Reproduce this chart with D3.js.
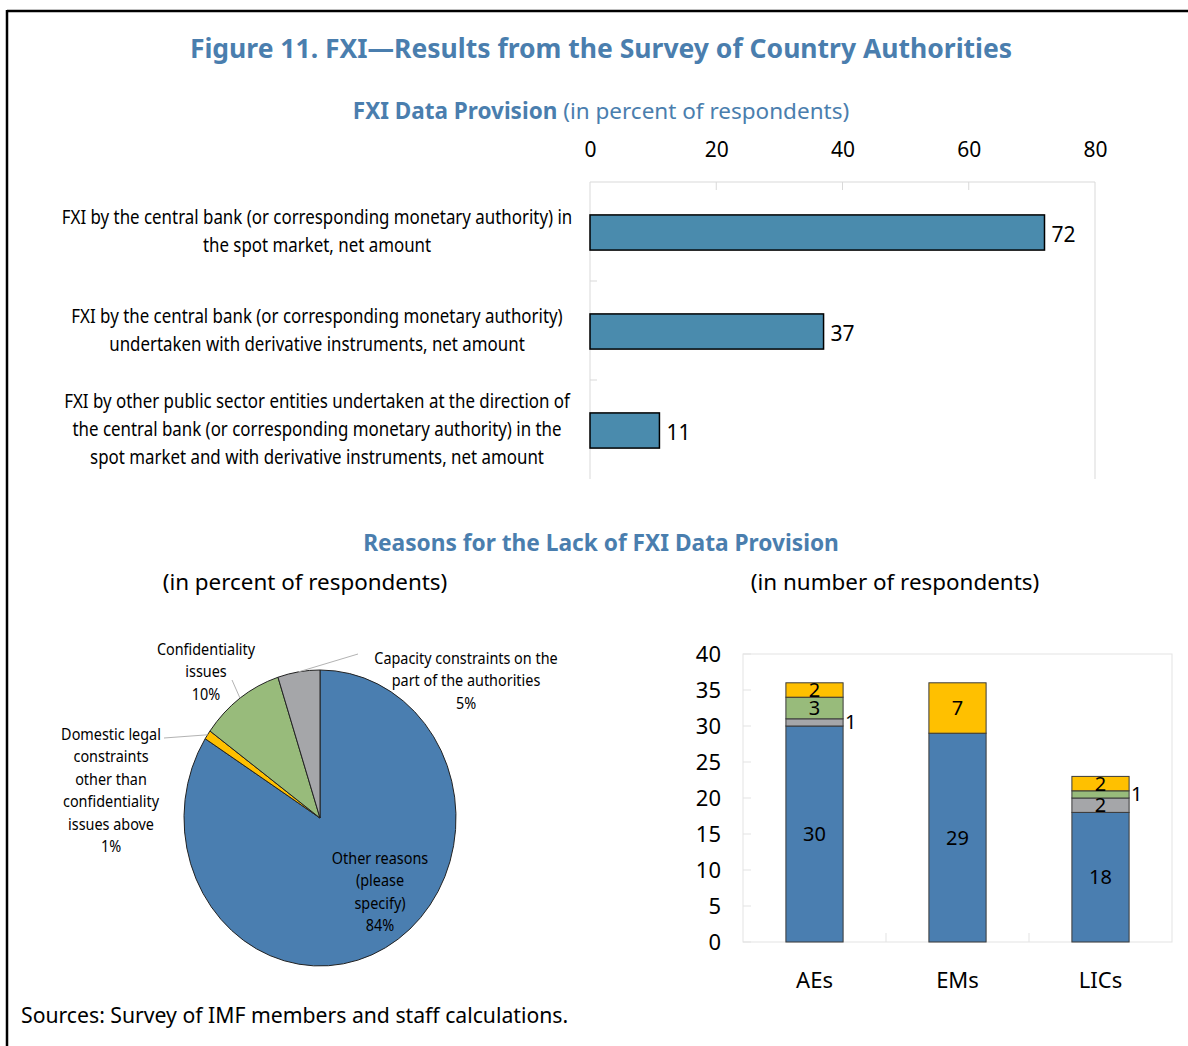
<!DOCTYPE html>
<html>
<head>
<meta charset="utf-8">
<script src="https://cdn.jsdelivr.net/npm/d3@7"></script>
<style>
  body { margin: 0; background: #fff; }
  text { font-family: "Noto Sans", "Open Sans", sans-serif; }
</style>
</head>
<body>
<script>
// top panel: FXI data provision, percent of respondents
var provisionLabels = [
  ["FXI by the central bank (or corresponding monetary authority) in", "the spot market, net amount"],
  ["FXI by the central bank (or corresponding monetary authority)", "undertaken with derivative instruments, net amount"],
  ["FXI by other public sector entities undertaken at the direction of", "the central bank (or corresponding monetary authority) in the", "spot market and with derivative instruments, net amount"]
];
var provisionValues = [72, 37, 11];
var provisionTicks = [0, 20, 40, 60, 80];

// pie: reasons, percent of respondents (clockwise from 12 o'clock)
var reasonNames = ["Other reasons", "Domestic legal constraints", "Confidentiality issues", "Capacity constraints"];
var reasonShares = [84, 1, 10, 5];
var reasonColors = ["#4a7eb0", "#ffc000", "#98bb7b", "#a5a6a9"];

// stacked bars: reasons, number of respondents
var groups = ["AEs", "EMs", "LICs"];
var otherReasons = [30, 29, 18];
var capacity = [1, 0, 2];
var confidentiality = [3, 0, 1];
var domesticLegal = [2, 7, 2];
var countTicks = [0, 5, 10, 15, 20, 25, 30, 35, 40];

var W = 1188, H = 1046;
var blue = "#4a7eae";
var svg = d3.select("body").append("svg").attr("width", W).attr("height", H);

// frame
svg.append("line").attr("x1", 7).attr("x2", W).attr("y1", 11).attr("y2", 11).attr("stroke", "#000").attr("stroke-width", 2.5);
svg.append("line").attr("x1", 7).attr("x2", 7).attr("y1", 10).attr("y2", H).attr("stroke", "#000").attr("stroke-width", 2.5);

// condensed multi-line label, centred on cx
function narrowLabel(parent, cx, lines, ys, size, k) {
  var g = parent.append("g").attr("transform", "translate(" + cx + ",0) scale(" + k + ",1)");
  var t = g.append("text").attr("text-anchor", "middle").attr("font-size", size);
  lines.forEach(function (ln, j) {
    t.append("tspan").attr("x", 0).attr("y", ys[j]).attr("dy", "0.35em").text(ln);
  });
}

// titles
svg.append("text").attr("x", 601).attr("y", 58).attr("text-anchor", "middle")
  .attr("font-size", 26.5).attr("font-weight", "bold").attr("fill", blue)
  .text("Figure 11. FXI\u2014Results from the Survey of Country Authorities");

var sub = svg.append("text").attr("x", 601).attr("y", 119).attr("text-anchor", "middle")
  .attr("font-size", 22.5).attr("fill", blue);
sub.append("tspan").attr("font-weight", "bold").text("FXI Data Provision");
sub.append("tspan").text(" (in percent of respondents)");

// ---- top bar chart ----
var x = d3.scaleLinear().domain([0, 80]).range([590, 1095]);
var y = d3.scaleBand().domain(d3.range(provisionValues.length)).range([182, 479]).paddingInner(0.645).paddingOuter(0.3225);
var grid = "#d9d9d9";

var topG = svg.append("g");
topG.append("line").attr("x1", x(0)).attr("x2", x(80)).attr("y1", 182).attr("y2", 182).attr("stroke", grid);
topG.append("line").attr("x1", x(80)).attr("x2", x(80)).attr("y1", 182).attr("y2", 479).attr("stroke", grid);
topG.append("line").attr("x1", x(0)).attr("x2", x(0)).attr("y1", 182).attr("y2", 479).attr("stroke", grid);
topG.selectAll(".xt").data(provisionTicks.slice(1, -1)).enter().append("line")
  .attr("x1", d => x(d)).attr("x2", d => x(d)).attr("y1", 182).attr("y2", 190).attr("stroke", grid);
topG.selectAll(".yt").data([1, 2]).enter().append("line")
  .attr("x1", x(0)).attr("x2", x(0) + 7)
  .attr("y1", d => 182 + d * y.step()).attr("y2", d => 182 + d * y.step()).attr("stroke", grid);

var xAxis = svg.append("g").attr("transform", "translate(0,155)")
  .call(d3.axisTop(x).tickValues(provisionTicks).tickSize(0).tickPadding(0));
xAxis.select(".domain").remove();
xAxis.selectAll("text").attr("font-size", 21).attr("fill", "#000").attr("dy", "0.1em");

topG.selectAll(".bar").data(provisionValues).enter().append("rect")
  .attr("x", x(0)).attr("y", (d, i) => y(i) + 1)
  .attr("width", d => x(d) - x(0)).attr("height", y.bandwidth())
  .attr("fill", "#4a8bad").attr("stroke", "#000").attr("stroke-width", 1.5);

topG.selectAll(".val").data(provisionValues).enter().append("text")
  .attr("x", d => x(d) + 7).attr("y", (d, i) => y(i) + y.bandwidth() / 2 + 3)
  .attr("dy", "0.35em").attr("font-size", 21).text(d => d);

provisionLabels.forEach(function (lines, i) {
  var cy = y(i) + y.bandwidth() / 2;
  var ys = lines.map((ln, j) => cy + (j - (lines.length - 1) / 2) * 28);
  narrowLabel(topG, 317, lines, ys, 19.5, 0.866);
});

// ---- bottom panel titles ----
svg.append("text").attr("x", 601).attr("y", 551).attr("text-anchor", "middle")
  .attr("font-size", 22.7).attr("font-weight", "bold").attr("fill", blue)
  .text("Reasons for the Lack of FXI Data Provision");
svg.append("text").attr("x", 305).attr("y", 590).attr("text-anchor", "middle")
  .attr("font-size", 22.4).text("(in percent of respondents)");
svg.append("text").attr("x", 895).attr("y", 590).attr("text-anchor", "middle")
  .attr("font-size", 22.4).text("(in number of respondents)");

// ---- pie ----
var cx = 320, cyP = 818, R = 148, sx = 136 / 148;
var pie = d3.pie().sort(null).value(d => d)(reasonShares);
var arc = d3.arc().innerRadius(0).outerRadius(R);
var pg = svg.append("g").attr("transform", "translate(" + cx + "," + cyP + ") scale(" + sx + ",1)");
pg.selectAll("path").data(pie).enter().append("path")
  .attr("d", arc).attr("fill", (d, i) => reasonColors[i])
  .attr("stroke", "#222").attr("stroke-width", 1).attr("vector-effect", "non-scaling-stroke");

function edge(i) {
  var a = (pie[i].startAngle + pie[i].endAngle) / 2;
  return [cx + Math.sin(a) * R * sx, cyP - Math.cos(a) * R];
}

var pieLabels = [
  { i: 0, x: 380, y: 858, lines: ["Other reasons", "(please", "specify)", "84%"], to: null },
  { i: 1, x: 111, y: 734, lines: ["Domestic legal", "constraints", "other than", "confidentiality", "issues above", "1%"], to: [164, 738] },
  { i: 2, x: 206, y: 649, lines: ["Confidentiality", "issues", "10%"], to: [232, 680] },
  { i: 3, x: 466, y: 658, lines: ["Capacity constraints on the", "part of the authorities", "5%"], to: [358, 654] }
];
pieLabels.forEach(function (p) {
  if (p.to) {
    var s = edge(p.i);
    svg.append("line").attr("x1", s[0]).attr("y1", s[1]).attr("x2", p.to[0]).attr("y2", p.to[1])
      .attr("stroke", "#b3b3b3").attr("stroke-width", 1);
  }
  narrowLabel(svg, p.x, p.lines, p.lines.map((ln, j) => p.y + j * 22.5), 16, 0.9);
});

// ---- stacked bars ----
var series = [otherReasons, capacity, confidentiality, domesticLegal];
var seriesColors = ["#4a7eb0", "#a5a6a9", "#98bb7b", "#ffc000"];
var rows = groups.map((g, i) => { var r = { g: g }; series.forEach((s, k) => r["s" + k] = s[i]); return r; });
var stack = d3.stack().keys(series.map((s, k) => "s" + k))(rows);

var bx = d3.scaleBand().domain(groups).range([743, 1172]).paddingInner(0.6).paddingOuter(0.3);
var by = d3.scaleLinear().domain([0, 40]).range([942, 654]);

var sg = svg.append("g");
sg.append("rect").attr("x", 743).attr("y", 654).attr("width", 1172 - 743).attr("height", 942 - 654)
  .attr("fill", "none").attr("stroke", "#e3e3e3");
sg.selectAll(".ytk").data(countTicks).enter().append("line")
  .attr("x1", 743).attr("x2", 751).attr("y1", d => by(d)).attr("y2", d => by(d)).attr("stroke", "#e3e3e3");
sg.selectAll(".xtk").data(groups.slice(1)).enter().append("line")
  .attr("x1", d => bx(d) - bx.step() * bx.paddingInner() / 2).attr("x2", d => bx(d) - bx.step() * bx.paddingInner() / 2)
  .attr("y1", 942).attr("y2", 933).attr("stroke", "#e3e3e3");

var yAx = svg.append("g").attr("transform", "translate(721,0)")
  .call(d3.axisLeft(by).tickValues(countTicks).tickSize(0).tickPadding(0));
yAx.select(".domain").remove();
yAx.selectAll("text").attr("font-size", 22).attr("fill", "#000");

var xAx = svg.append("g").attr("transform", "translate(0,972)")
  .call(d3.axisBottom(bx).tickSize(0).tickPadding(0));
xAx.select(".domain").remove();
xAx.selectAll("text").attr("font-size", 22).attr("fill", "#000");

stack.forEach(function (layer, k) {
  layer.forEach(function (d, i) {
    var v = d[1] - d[0];
    if (v <= 0) return;
    var g = groups[i];
    sg.append("rect").attr("x", bx(g)).attr("y", by(d[1]))
      .attr("width", bx.bandwidth()).attr("height", by(d[0]) - by(d[1]))
      .attr("fill", seriesColors[k]).attr("stroke", "#3a3a3a").attr("stroke-width", 1);
  });
});
stack.forEach(function (layer, k) {
  layer.forEach(function (d, i) {
    var v = d[1] - d[0];
    if (v <= 0) return;
    var g = groups[i];
    var inside = v >= 2;
    sg.append("text")
      .attr("x", inside ? bx(g) + bx.bandwidth() / 2 : bx(g) + bx.bandwidth() + 2)
      .attr("y", by((d[0] + d[1]) / 2)).attr("dy", "0.35em")
      .attr("text-anchor", inside ? "middle" : "start")
      .attr("font-size", 20).text(v);
  });
});

// source
svg.append("text").attr("x", 21).attr("y", 1023).attr("font-size", 21.2).text("Sources: Survey of IMF members and staff calculations.");
</script>
</body>
</html>
